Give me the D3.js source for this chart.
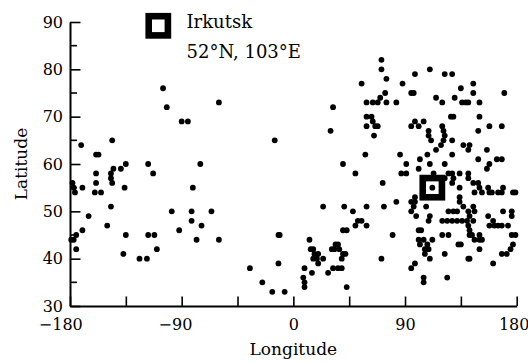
<!DOCTYPE html>
<html>
<head>
<meta charset="utf-8">
<script src="https://cdn.jsdelivr.net/npm/d3@7"></script>
<style>
  body { margin: 0; background: #fff; }
  svg text { font-family: "DejaVu Serif", serif; fill: #000; }
</style>
</head>
<body>
<svg id="chart"></svg>
<script>
// station positions as [longitude, latitude]
const westStations = [
  [-179, 44], [-177, 44], [-178, 56], [-177, 55], [-176, 54], [-175, 45], [-175, 42],
  [-171, 64], [-170, 55], [-170, 46], [-165, 49], [-160, 54], [-159, 62], [-157, 62],
  [-159, 58], [-159, 56], [-155, 54], [-150, 47], [-147, 58], [-147, 57], [-146, 56],
  [-145, 59], [-147, 51], [-146, 65], [-139, 59], [-137, 41], [-136, 55], [-135, 60],
  [-135, 45], [-124, 40], [-118, 40], [-117, 60], [-113, 58], [-117, 45], [-112, 45],
  [-110, 42], [-105, 76], [-102, 72], [-98, 50], [-92, 46], [-90, 69], [-85, 69],
  [-82, 50], [-82, 48], [-81, 55], [-78, 44], [-75, 60], [-74, 47], [-66, 50],
  [-60, 44], [-60, 73], [-35, 38], [-25, 35], [-17, 33], [-15, 65], [-12, 45],
  [-11, 45], [-12, 39], [-7, 33]
];
const centralStations = [
  [8, 36], [9, 35], [9, 34], [9, 38], [13, 44], [14, 42], [16, 42], [15, 37], [16, 40],
  [17, 41], [19, 40], [20, 39], [20, 41], [24, 40], [24, 51], [28, 37], [30, 67],
  [31, 42], [32, 72], [33, 42], [32, 38], [34, 43], [36, 43], [37, 42], [36, 38],
  [39, 38], [39, 40], [40, 41], [42, 41], [40, 46], [43, 46], [40, 60], [41, 51],
  [43, 34], [48, 50], [50, 47], [50, 58], [52, 48], [55, 48], [55, 77], [58, 62],
  [59, 47], [59, 51], [59, 68], [59, 70], [59, 73], [63, 70], [64, 69], [64, 73],
  [66, 68], [65, 66], [68, 68], [68, 73], [70, 74], [71, 82], [71, 80], [71, 40],
  [72, 56], [73, 51], [74, 75], [75, 78], [75, 73], [80, 45], [83, 52], [83, 73],
  [86, 62], [87, 58], [88, 77]
];
const eastStations = [
  [91, 60], [95, 75], [97, 75], [98, 79], [110, 80], [122, 79], [128, 79], [145, 77],
  [135, 76], [145, 75], [170, 75], [115, 74], [120, 73], [130, 74], [136, 73], [139, 73],
  [141, 73], [150, 73], [127, 70], [129, 70], [150, 70], [95, 68], [98, 69], [101, 68],
  [105, 69], [120, 68], [121, 67], [122, 66], [149, 67], [158, 68], [168, 68], [109, 67],
  [109, 66], [111, 65], [121, 65], [119, 64], [128, 65], [137, 64], [142, 64], [141, 63],
  [156, 63], [115, 63], [108, 62], [128, 62], [102, 61], [149, 61], [164, 61], [168, 61],
  [158, 60], [110, 60], [122, 60], [156, 59], [101, 59],
  [91, 58], [113, 58], [125, 58], [128, 58], [134, 58], [141, 58],
  [122, 57], [129, 57], [141, 57], [128, 56], [145, 56], [149, 56],
  [112, 55], [134, 55], [150, 55], [157, 55], [169, 55],
  [146, 54], [152, 54], [158, 54], [160, 54], [165, 54], [168, 54], [177, 54], [179, 54],
  [98, 53], [134, 53], [95, 52], [98, 52], [134, 52],
  [97, 51], [107, 51], [137, 51], [145, 51],
  [95, 50], [125, 50], [129, 50], [132, 50], [141, 50], [146, 50], [169, 50], [176, 50],
  [99, 49], [110, 49], [142, 49], [157, 49], [176, 49],
  [109, 48], [120, 48], [124, 48], [128, 48], [132, 48], [136, 48], [140, 48], [145, 48], [161, 48],
  [141, 47], [158, 47], [162, 47], [165, 47], [168, 47], [173, 47],
  [101, 46], [103, 46], [142, 46],
  [120, 45], [125, 45], [142, 45], [144, 45], [150, 45], [176, 45], [179, 45],
  [101, 44], [105, 44], [112, 44], [146, 44], [150, 44], [152, 44],
  [102, 43], [108, 43], [133, 43], [135, 43], [177, 43],
  [106, 42], [109, 42], [150, 42], [175, 42],
  [106, 41], [122, 41], [168, 41], [172, 41],
  [110, 40], [141, 40], [142, 40], [98, 39], [161, 39], [95, 38],
  [105, 36], [124, 36], [105, 35]
];
const irkutsk = [112, 55];
const legendLines = ['Irkutsk', '52°N, 103°E'];

const lonDomain = [-180, 180];
const latDomain = [30, 90];
const lonTicks = [-180, -135, -90, -45, 0, 45, 90, 135, 180];
const lonLabels = [-180, -90, 0, 90, 180];
const latTicks = [30, 40, 50, 60, 70, 80, 90];
const latMinorTicks = [35, 45, 55, 65, 75, 85];
const xTitle = 'Longitude';
const yTitle = 'Latitude';

class StationMap {
  constructor(_config) {
    this.config = {
      parentElement: _config.parentElement,
      containerWidth: _config.containerWidth || 528,
      containerHeight: _config.containerHeight || 362,
      margin: _config.margin || { top: 22, right: 11.3, bottom: 56, left: 70 }
    };
    this.stations = westStations.concat(centralStations, eastStations);
    this.initVis();
  }

  initVis() {
    let vis = this;
    const m = vis.config.margin;
    vis.width = vis.config.containerWidth - m.left - m.right;
    vis.height = vis.config.containerHeight - m.top - m.bottom;

    vis.xScale = d3.scaleLinear().domain(lonDomain).range([0, vis.width]);
    vis.yScale = d3.scaleLinear().domain(latDomain).range([vis.height, 0]);

    vis.svg = d3.select(vis.config.parentElement)
      .attr('width', vis.config.containerWidth)
      .attr('height', vis.config.containerHeight);
    vis.chart = vis.svg.append('g')
      .attr('transform', `translate(${m.left},${m.top})`);

    vis.renderVis();
  }

  renderVis() {
    let vis = this;

    // x axis: ticks every 45 degrees, pointing inward, labels every 90
    const xAxis = d3.axisBottom(vis.xScale)
      .tickValues(lonTicks)
      .tickSizeInner(-9.5)
      .tickSizeOuter(0)
      .tickPadding(13)
      .tickFormat(d => lonLabels.includes(d) ? Math.abs(d) : '');
    const xAxisG = vis.chart.append('g')
      .attr('class', 'axis x-axis')
      .attr('transform', `translate(0,${vis.height})`)
      .call(xAxis);

    vis.svg.selectAll('.axis path.domain').attr('stroke', '#000').attr('stroke-width', 2);
    xAxisG.selectAll('text').style('font-size', '16px');

    // digits stay centred on the tick, the minus sign hangs to the left;
    // the 180 labels are nudged in so they stay inside the frame
    xAxisG.selectAll('.tick text').each(function (d) {
      if (!lonLabels.includes(d)) return;
      const t = d3.select(this);
      const w = this.getComputedTextLength();
      const nudge = Math.abs(d) === 180 ? -3 : 0;
      if (d < 0) {
        t.text('−' + Math.abs(d))
          .attr('text-anchor', 'end')
          .attr('x', w / 2 + nudge);
      } else {
        t.attr('x', nudge);
      }
    });

    const yAxis = d3.axisLeft(vis.yScale)
      .tickValues(latTicks)
      .tickSizeInner(-10.5)
      .tickSizeOuter(0)
      .tickPadding(7)
      .tickFormat(d3.format('d'));
    const yAxisG = vis.chart.append('g')
      .attr('class', 'axis y-axis')
      .call(yAxis);

    yAxisG.selectAll('.minor')
      .data(latMinorTicks)
      .join('line')
      .attr('class', 'minor')
      .attr('x1', 0)
      .attr('x2', 7)
      .attr('y1', d => vis.yScale(d))
      .attr('y2', d => vis.yScale(d))
      .attr('stroke', '#000')
      .attr('stroke-width', 1.6);

    vis.svg.selectAll('.axis path.domain').attr('stroke', '#000').attr('stroke-width', 2);
    vis.svg.selectAll('.axis .tick line').attr('stroke', '#000').attr('stroke-width', 1.6);
    vis.svg.selectAll('.axis text').style('font-size', '16px').attr('fill', '#000')
      .style('font-family', '"DejaVu Serif", serif');

    // Irkutsk marker under the dots
    vis.chart.append('rect')
      .attr('x', vis.xScale(irkutsk[0]) - 9.6)
      .attr('y', vis.yScale(irkutsk[1]) - 9.6)
      .attr('width', 19.2)
      .attr('height', 19.2)
      .attr('fill', '#fff')
      .attr('stroke', '#000')
      .attr('stroke-width', 6.6);

    vis.chart.append('g')
      .selectAll('circle')
      .data(vis.stations)
      .join('circle')
      .attr('cx', d => vis.xScale(d[0]))
      .attr('cy', d => vis.yScale(d[1]))
      .attr('r', 2.9)
      .attr('fill', '#000');

    // axis titles
    vis.chart.append('text')
      .attr('x', vis.width / 2)
      .attr('y', vis.height + 49)
      .attr('text-anchor', 'middle')
      .attr('fill', '#000')
      .style('font-size', '17px')
      .text(xTitle);
    vis.chart.append('text')
      .attr('transform', `translate(${27 - vis.config.margin.left},${vis.height / 2}) rotate(-90)`)
      .attr('text-anchor', 'middle')
      .attr('fill', '#000')
      .style('font-size', '17px')
      .text(yTitle);

    // legend
    const legend = vis.svg.append('g').attr('class', 'legend');
    legend.append('rect')
      .attr('x', 148.7)
      .attr('y', 16.2)
      .attr('width', 19.2)
      .attr('height', 19.2)
      .attr('fill', '#fff')
      .attr('stroke', '#000')
      .attr('stroke-width', 6.6);
    legend.selectAll('text')
      .data(legendLines)
      .join('text')
      .attr('x', 186.5)
      .attr('y', (d, i) => 28.3 + i * 29.5)
      .attr('fill', '#000')
      .style('font-size', '18px')
      .text(d => d);
  }
}

new StationMap({ parentElement: '#chart' });
</script>
</body>
</html>
